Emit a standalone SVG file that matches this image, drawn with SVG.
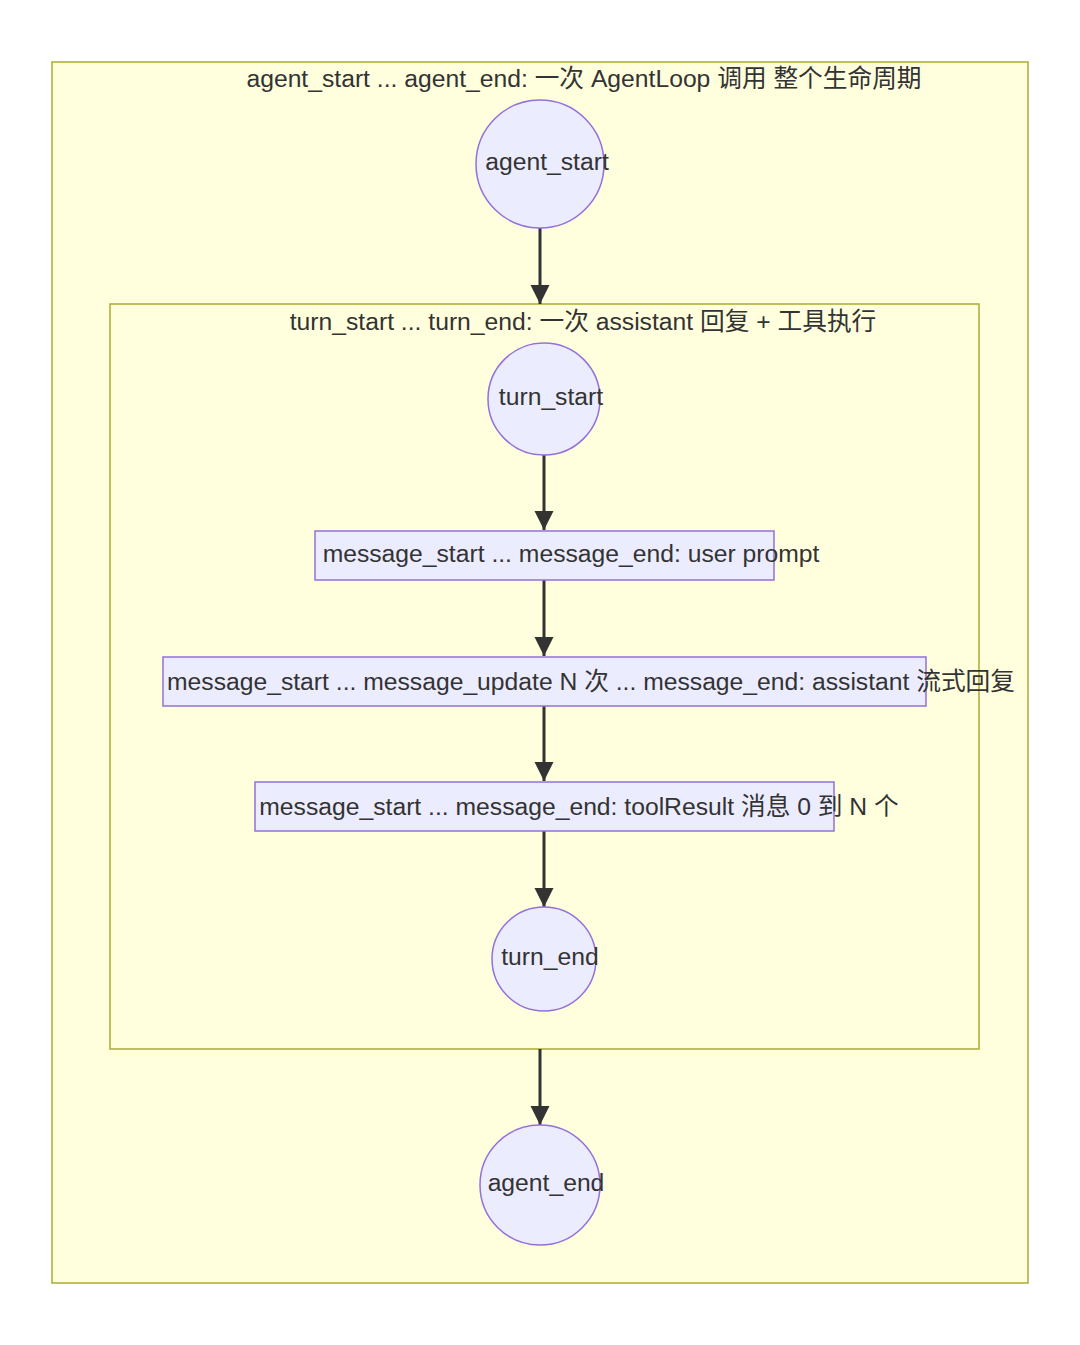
<svg xmlns="http://www.w3.org/2000/svg" width="1080" height="1345" viewBox="0 0 1080 1345">
<style>
.cluster{fill:#ffffde;stroke:#aaaa33;stroke-width:1.5}
.node{fill:#ececff;stroke:#9370db;stroke-width:1.5}
.lbl{font-family:"Liberation Sans","Noto Sans CJK SC",sans-serif;font-size:24.7px;fill:#333333;text-anchor:middle;dominant-baseline:central}
.edge{stroke:#333333;stroke-width:3;fill:none}
</style>
<defs>
<marker id="arrow" viewBox="0 0 10 10" refX="10" refY="5" markerWidth="6.5" markerHeight="6.5" markerUnits="strokeWidth" orient="auto">
<path d="M0,0 L10,5 L0,10 z" fill="#333333"/>
</marker>
</defs>
<rect width="1080" height="1345" fill="#ffffff"/>
<g id="cluster-agent">
<rect class="cluster" x="52" y="62" width="976" height="1221"/>
<text class="lbl" x="584" y="78">agent_start ... agent_end: 一次 AgentLoop 调用 整个生命周期</text>
</g>
<g id="cluster-turn">
<rect class="cluster" x="110" y="304" width="869" height="745"/>
<text class="lbl" x="583" y="321">turn_start ... turn_end: 一次 assistant 回复 + 工具执行</text>
</g>
<g id="connectors">
<line class="edge" x1="540" y1="228" x2="540" y2="304" marker-end="url(#arrow)"/>
<line class="edge" x1="544" y1="455" x2="544" y2="530" marker-end="url(#arrow)"/>
<line class="edge" x1="544" y1="580" x2="544" y2="656" marker-end="url(#arrow)"/>
<line class="edge" x1="544" y1="706" x2="544" y2="781" marker-end="url(#arrow)"/>
<line class="edge" x1="544" y1="831" x2="544" y2="907" marker-end="url(#arrow)"/>
<line class="edge" x1="540" y1="1049" x2="540" y2="1125" marker-end="url(#arrow)"/>
</g>
<g id="agent_start">
<circle class="node" cx="540" cy="164" r="64"/>
<text class="lbl" x="547" y="161">agent_start</text>
</g>
<g id="turn_start">
<circle class="node" cx="544" cy="399" r="56"/>
<text class="lbl" x="551" y="396">turn_start</text>
</g>
<g id="msg_user">
<rect class="node" x="315" y="531" width="459" height="49"/>
<text class="lbl" x="571" y="553">message_start ... message_end: user prompt</text>
</g>
<g id="msg_assistant">
<rect class="node" x="163" y="657" width="763" height="49"/>
<text class="lbl" x="591" y="681">message_start ... message_update N 次 ... message_end: assistant 流式回复</text>
</g>
<g id="msg_tool">
<rect class="node" x="255" y="782" width="579" height="49"/>
<text class="lbl" x="579" y="806">message_start ... message_end: toolResult 消息 0 到 N 个</text>
</g>
<g id="turn_end">
<circle class="node" cx="544" cy="959" r="52"/>
<text class="lbl" x="550" y="956">turn_end</text>
</g>
<g id="agent_end">
<circle class="node" cx="540" cy="1185" r="60"/>
<text class="lbl" x="546" y="1182">agent_end</text>
</g>
</svg>
